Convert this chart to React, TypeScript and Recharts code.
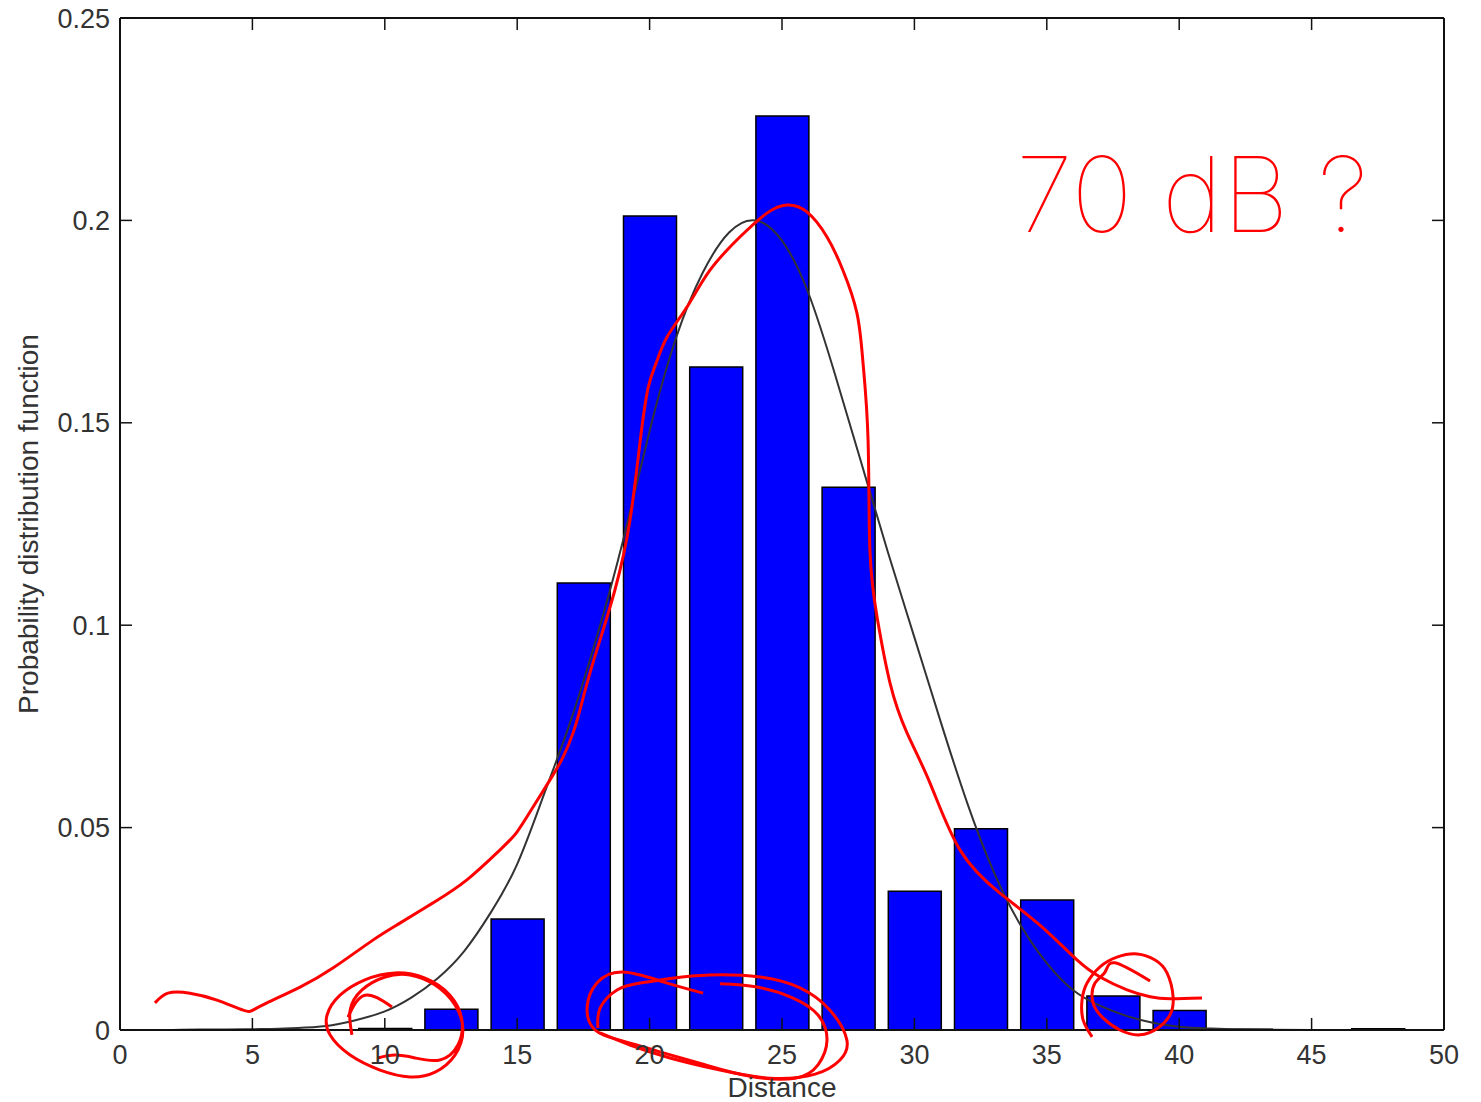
import React from 'react'
import { Bar, ComposedChart, Label, Line, Scatter, XAxis, YAxis } from 'recharts'

// histogram bins (centre, density)
const binCenters = [10, 12.5, 15, 17.5, 20, 22.5, 25, 27.5, 30, 32.5, 35, 37.5, 40, 42.5, 47.5]
const binDensity = [0.0004, 0.0051, 0.0274, 0.1104, 0.2011, 0.1638, 0.2258, 0.1341, 0.0343, 0.0497, 0.0321, 0.0084, 0.0048, 0.0002, 0.0003]

// fitted curve
const fitX = [2, 3, 4, 5, 6, 7, 8, 9, 10, 11, 12, 13, 14, 15, 16, 17, 18, 19, 20, 21, 22, 23, 24, 25, 26, 27, 28, 29, 30, 31, 32, 33, 34, 35, 36, 37, 38, 39, 40, 41, 42, 43, 45, 48]
const fitPdf = [0, 0.0001, 0.0001, 0.0002, 0.0003, 0.0006, 0.0012, 0.0026, 0.0046, 0.008, 0.0128, 0.0195, 0.029, 0.041, 0.058, 0.076, 0.097, 0.121, 0.148, 0.171, 0.187, 0.197, 0.2, 0.195, 0.182, 0.162, 0.14, 0.118, 0.097, 0.076, 0.056, 0.039, 0.026, 0.0165, 0.0098, 0.006, 0.0035, 0.0018, 0.0008, 0.0004, 0.0002, 0.0001, 0, 0]

const xTicks = [0, 5, 10, 15, 20, 25, 30, 35, 40, 45, 50]
const yTicks = [0, 0.05, 0.1, 0.15, 0.2, 0.25]

// red pen marks drawn over the figure (data units)
const penPeak = [
  [1.32, 0.0067], [1.81, 0.0091], [2.64, 0.0091], [3.66, 0.0074], [4.65, 0.0049], [5.02, 0.0049],
  [5.55, 0.0067], [6.8, 0.0106], [8.04, 0.0153], [9.55, 0.0222], [10.57, 0.0264], [11.82, 0.0314],
  [13.1, 0.0371], [14.35, 0.0445], [14.99, 0.0489], [15.6, 0.0551], [16.24, 0.0618], [16.73, 0.0674],
  [17.11, 0.0734], [17.37, 0.0791], [17.64, 0.0857], [18.01, 0.0939], [18.69, 0.1087], [19.26, 0.126],
  [19.65, 0.1458], [19.95, 0.1588], [20.25, 0.1648], [20.66, 0.1712], [21.41, 0.1786], [22.28, 0.1877],
  [23.41, 0.1959], [24.43, 0.2018], [25.19, 0.2038], [25.94, 0.2021], [26.7, 0.1959], [27.3, 0.1877],
  [27.83, 0.1771], [28.06, 0.1648], [28.25, 0.1458], [28.32, 0.1186], [28.59, 0.102], [29.08, 0.0857],
  [29.72, 0.0734], [30.59, 0.061], [31.72, 0.0445], [33.23, 0.0338], [34.74, 0.0259], [36.14, 0.0173],
  [37.01, 0.0131], [38.03, 0.0099], [38.9, 0.0082], [39.65, 0.0077], [40.86, 0.0079],
]
const penLoop10 = [
  [8.76, -0.0012], [8.69, 0.0049], [9.14, 0.0099], [10.01, 0.0131], [10.95, 0.0136], [11.9, 0.0111],
  [12.65, 0.0062], [12.95, 0], [12.65, -0.0062], [11.9, -0.0104], [10.95, -0.0116], [9.82, -0.0099],
  [8.69, -0.0062], [7.93, -0.0012], [7.82, 0.0037], [8.31, 0.0086], [9.25, 0.0124], [10.38, 0.0141],
  [11.52, 0.0128], [12.46, 0.0086], [12.91, 0.0025], [12.76, -0.0037], [12.08, -0.0074], [11.14, -0.0069],
  [10.38, -0.0062], [9.74, -0.0069],
]
const penTick10 = [[8.61, 0.0032], [9.25, 0.0086], [10.27, 0.0057]]
const penLoop20a = [
  [22.02, 0.0091], [20.51, 0.0119], [18.99, 0.0143], [18.01, 0.0116], [17.64, 0.0054], [17.94, 0],
  [18.88, -0.0025], [20.39, -0.0054], [22.09, -0.0086], [23.79, -0.0114], [25.49, -0.0119], [26.36, -0.0086],
  [26.7, -0.0025], [26.36, 0.0037], [25.42, 0.0079], [24.06, 0.0106], [22.66, 0.0114],
]
const penLoop20b = [
  [18.05, 0.0005], [18.13, 0.0054], [18.77, 0.0099], [19.64, 0.0116], [20.85, 0.0128], [22.28, 0.0136],
  [24.17, 0.0131], [25.68, 0.0104], [26.81, 0.0049], [27.45, -0.0025], [27.19, -0.0074], [26.25, -0.0109],
  [24.55, -0.0119], [22.66, -0.0099], [20.77, -0.0069], [19.26, -0.0037], [18.13, -0.0007],
]
const penLoop375 = [
  [36.71, -0.0017], [36.37, 0.0025], [36.33, 0.0074], [36.52, 0.0116], [37.01, 0.0156], [37.65, 0.018],
  [38.41, 0.0188], [39.09, 0.0173], [39.54, 0.0141], [39.77, 0.0082], [39.65, 0.0037], [39.2, 0.0005],
  [38.52, -0.0012], [37.76, 0], [37.12, 0.003], [36.74, 0.0069], [36.82, 0.0116], [37.2, 0.0143],
  [37.57, 0.0166], [38.9, 0.0121],
]
const penMarks = [penPeak, penLoop10, penTick10, penLoop20a, penLoop20b, penLoop375]

const barRows = binCenters.map((x, i) => ({ x, bar: binDensity[i] }))
const fitRows = fitX.map((x, i) => ({ x, pdf: fitPdf[i] }))

const FONT = '"Liberation Sans", Arial, sans-serif'
const TXT = '#333'
const tickFont = { fill: TXT, fontSize: 27, fontFamily: FONT }
const axisStroke = { stroke: '#111', strokeWidth: 2 }
const tickStroke = { stroke: '#111', strokeWidth: 1.5 }
const noLabel = () => ''

export default function App() {
  return (
    <div style={{ position: 'absolute', left: 0, top: 0, width: 1481, height: 1102, background: '#fff' }}>
      {/* pen strokes go past the axes, so don't clip them */}
      <style>{'.recharts-scatter, .recharts-scatter * { clip-path: none !important; }'}</style>
      <ComposedChart width={1481} height={1102} data={barRows} margin={{ top: 0, right: 0, bottom: 0, left: 0 }}>
        <XAxis
          dataKey="x" type="number" domain={[0, 50]} ticks={xTicks} allowDataOverflow
          height={72} tickSize={-12} tickMargin={27} axisLine={axisStroke} tickLine={tickStroke} tick={tickFont}
        >
          <Label value="Distance" position="insideBottom" offset={5} style={{ fill: TXT, fontSize: 28, fontFamily: FONT }} />
        </XAxis>
        <XAxis
          xAxisId="top" orientation="top" dataKey="x" type="number" domain={[0, 50]} ticks={xTicks} allowDataOverflow
          height={18} tickSize={-12} axisLine={axisStroke} tickLine={tickStroke} tickFormatter={noLabel}
        />
        {/* hidden twins so the curve and pen marks don't squeeze the bar width */}
        <XAxis xAxisId="fit" dataKey="x" type="number" domain={[0, 50]} allowDataOverflow hide />
        <XAxis xAxisId="pen" dataKey="x" type="number" domain={[0, 50]} allowDataOverflow hide />

        <YAxis
          type="number" domain={[0, 0.25]} ticks={yTicks} allowDataOverflow
          width={120} tickSize={-12} tickMargin={22} axisLine={axisStroke} tickLine={tickStroke} tick={tickFont}
        >
          <Label
            value="Probability distribution function" angle={-90} position="insideLeft" offset={28}
            style={{ textAnchor: 'middle', fill: TXT, fontSize: 28, fontFamily: FONT }}
          />
        </YAxis>
        <YAxis
          yAxisId="right" orientation="right" type="number" domain={[0, 0.25]} ticks={yTicks} allowDataOverflow
          width={37} tickSize={-12} axisLine={axisStroke} tickLine={tickStroke} tickFormatter={noLabel}
        />
        <YAxis yAxisId="pen" dataKey="y" type="number" domain={[0, 0.25]} allowDataOverflow hide />

        <Bar dataKey="bar" barSize={53} fill="#0000ff" stroke="#000" strokeWidth={1.5} isAnimationActive={false} />
        <Line
          data={fitRows} xAxisId="fit" dataKey="pdf" type="natural"
          stroke="#333" strokeWidth={2} dot={false} isAnimationActive={false}
        />

        {penMarks.map((pts, i) => (
          <Scatter
            key={i}
            xAxisId="pen"
            yAxisId="pen"
            data={pts.map(([x, y]) => ({ x, y }))}
            line={{ stroke: '#ff0000', strokeWidth: 3 }}
            lineType="joint"
            lineJointType="natural"
            shape={() => <g />}
            legendType="none"
            isAnimationActive={false}
          />
        ))}
      </ComposedChart>

      <svg width={1481} height={1102} style={{ position: 'absolute', left: 0, top: 0, pointerEvents: 'none' }}>
        <text x={1016} y={232} fill="#ff0000" fontSize={104} fontWeight={100} fontFamily="Inter, Lato, sans-serif">70 dB ?</text>
      </svg>
    </div>
  )
}
